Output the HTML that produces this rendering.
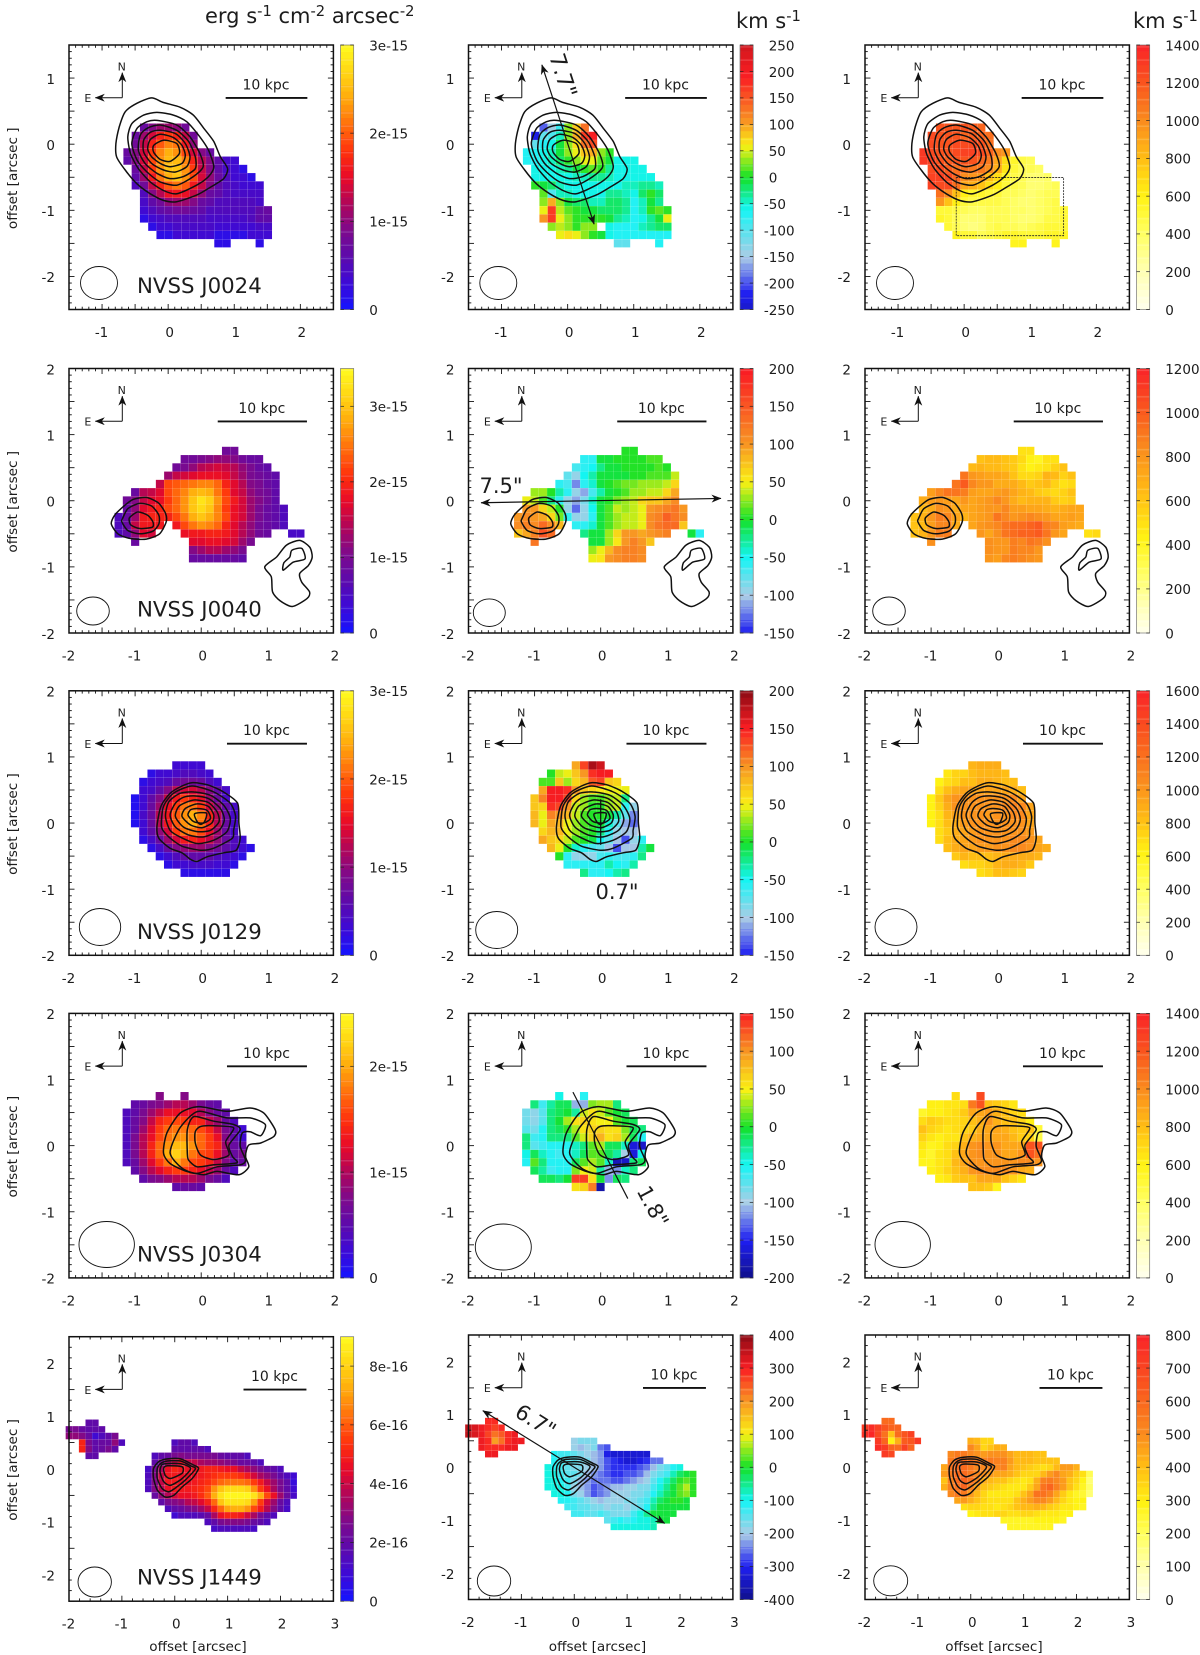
<!DOCTYPE html>
<html lang="en">
<head>
<meta charset="utf-8">
<title>Ionized gas maps of five NVSS radio galaxies</title>
<style>
html,body{margin:0;padding:0;background:#fff;}
svg{display:block;font-family:"DejaVu Sans","Liberation Sans",sans-serif;fill:#1c1c1c;}
</style>
</head>
<body>
<svg id="figure" xmlns="http://www.w3.org/2000/svg" width="1200" height="1655" viewBox="0 0 1200 1655">
<defs>
<marker id="head" viewBox="0 0 10 8" refX="9.5" refY="4" markerWidth="10" markerHeight="8" markerUnits="userSpaceOnUse" orient="auto-start-reverse"><path d="M0 0L10 4L0 8L3 4Z" fill="#111"/></marker>
</defs>
<rect width="1200" height="1655" fill="#fff"/>
<text x="205" y="23" font-size="21">erg s<tspan dy="-7" font-size="14.7">-1</tspan><tspan dy="7"> cm</tspan><tspan dy="-7" font-size="14.7">-2</tspan><tspan dy="7"> arcsec</tspan><tspan dy="-7" font-size="14.7">-2</tspan></text>
<text x="736" y="28" font-size="21">km s<tspan dy="-7" font-size="14.7">-1</tspan></text>
<text x="1133" y="28" font-size="21">km s<tspan dy="-7" font-size="14.7">-1</tspan></text>
<g id="plots"></g>
</svg>
<script>
const _ = null;

/* ---------- NVSS J0024 ---------- */
const j0024Flux = [
[_,_,7,9,11,11,10,8],
[_,7,11,14,17,18,17,13,8],
[_,8,13,17,20,22,21,16,10],
[7,9,14,18,22,24,23,19,14,9,7],
[6,9,14,19,23,25,25,22,17,12,9,6,4,3],
[_,7,13,18,23,26,26,23,18,13,9,6,4,3,2],
[_,6,11,16,21,24,26,23,19,14,10,7,5,3,3,2],
[_,5,8,13,17,20,21,20,16,13,9,6,5,4,3,3,3],
[_,_,5,9,12,15,16,15,13,10,7,6,5,4,4,4,4],
[_,_,4,6,8,10,11,11,9,7,6,5,5,5,5,5,4],
[_,_,3,5,6,7,8,8,7,6,5,5,5,5,5,5,6,7],
[_,_,2,3,4,5,5,5,5,5,4,4,4,4,4,5,6,6],
[_,_,_,2,3,3,4,4,4,4,4,3,3,3,3,3,4,4],
[_,_,_,_,2,2,3,3,3,3,3,2,2,2,2,3,3,3],
[_,_,_,_,_,_,_,_,_,_,_,2,2,_,_,_,2]
];
const j0024Velocity = [
[_,_,-200,-150,-80,30,80,130],
[_,-230,-110,-90,-40,30,90,170,190],
[_,-110,-70,-60,-10,30,70,130,150],
[-70,-70,-60,-50,-10,25,50,80,90,30,0],
[-70,-65,-60,-50,-20,10,30,60,60,20,-10,-55,-55,-55],
[_,-60,-60,-60,-50,-30,-10,10,20,0,-30,-60,-60,-55,-60],
[_,-60,-55,-60,-60,-55,-45,-40,-30,-35,-50,-60,-60,-60,-60,-55],
[_,0,-10,-20,-45,-60,-60,-60,-55,-55,-55,-60,-45,-40,-30,-30,-40],
[_,_,15,-100,-40,-50,-60,-60,-60,-60,-30,-30,-50,-55,-20,5,-25],
[_,_,35,90,25,-10,-15,-25,-50,-45,-25,-25,-35,-65,-40,-10,-30],
[_,_,60,170,45,15,0,-5,-10,-20,-15,-25,-35,-70,-50,0,15,0],
[_,_,100,170,50,30,5,0,10,0,-10,-30,-40,-70,-55,-30,-5,60],
[_,_,_,25,45,35,10,30,25,_,-55,-70,-70,-70,-50,-30,-20,-20],
[_,_,_,_,55,70,50,35,0,-5,-60,-70,-70,-70,-75,-65,-70,-75],
[_,_,_,_,_,_,_,_,_,_,_,-110,-110,_,_,_,-75]
];
const j0024Width = [
[_,_,1200,1210,1200,1200,1180,1150],
[_,1250,1200,1200,1200,1150,1180,1150,1100],
[_,1250,1200,1200,1230,1250,1250,1200,1100],
[1300,1250,1200,1200,1230,1280,1280,1230,1150,1000,950],
[1300,1280,1200,1180,1200,1200,1200,1150,1050,880,680,540,480,450],
[_,1250,1250,1180,1100,1100,1080,1050,1000,850,660,520,440,420,400],
[_,1280,1280,1230,1120,1000,950,950,800,680,540,460,420,380,370,400],
[_,1280,1230,1250,1100,900,850,800,680,620,520,460,420,380,370,390,430],
[_,_,1100,1000,800,620,540,530,520,500,450,420,400,380,390,420,440],
[_,_,950,800,620,500,460,470,480,470,430,400,380,370,400,440,470],
[_,_,520,500,470,420,400,410,440,450,430,410,390,380,400,450,480,520],
[_,_,530,490,440,380,360,380,430,430,430,410,380,380,400,460,480,500],
[_,_,_,520,420,350,330,360,420,460,450,420,390,420,460,500,500,500],
[_,_,_,_,560,520,490,450,470,510,540,540,520,500,520,540,550,550],
[_,_,_,_,_,_,_,_,_,_,_,570,570,_,_,_,570]
];
const j0024Contours = [
[[-.25,.70],[-.07,.63],[.18,.56],[.38,.44],[.54,.24],[.69,.04],[.79,-.19],[.90,-.37],[.84,-.52],[.64,-.65],[.43,-.77],[.13,-.87],[-.07,-.85],[-.27,-.75],[-.47,-.60],[-.65,-.39],[-.78,-.19],[-.79,.01],[-.74,.26],[-.65,.49],[-.47,.62]],
[[-.17,.48],[.08,.44],[.28,.34],[.48,.11],[.61,-.09],[.69,-.34],[.61,-.49],[.43,-.62],[.13,-.75],[-.07,-.70],[-.27,-.57],[-.45,-.37],[-.57,-.14],[-.61,.11],[-.55,.31],[-.37,.44]],
[[-.17,.36],[.13,.29],[.33,.11],[.48,-.14],[.53,-.34],[.38,-.49],[.13,-.62],[-.12,-.57],[-.32,-.42],[-.47,-.24],[-.55,.01],[-.47,.24],[-.32,.34]],
[[-.12,.29],[.13,.21],[.31,.04],[.41,-.19],[.41,-.37],[.23,-.49],[.03,-.52],[-.17,-.44],[-.35,-.29],[-.45,-.09],[-.42,.14],[-.30,.25]],
[[-.12,.21],[.11,.16],[.26,.01],[.33,-.19],[.28,-.34],[.11,-.42],[-.07,-.39],[-.25,-.29],[-.37,-.12],[-.37,.06],[-.27,.18]],
[[-.12,.15],[.08,.10],[.21,-.02],[.26,-.17],[.21,-.29],[.03,-.34],[-.12,-.29],[-.25,-.19],[-.31,-.07],[-.27,.07]],
[[-.07,.06],[.13,.01],[.17,-.14],[.03,-.26],[-.12,-.23],[-.22,-.12],[-.22,-.02]]
];

/* ---------- NVSS J0040 ---------- */
const j0040Flux = [
[_,_,_,_,_,_,_,_,_,_,_,_,_,9,9],
[_,_,_,_,_,_,_,_,9,9,10,11,12,12,11,9,8,8],
[_,_,_,_,_,_,_,9,10,12,14,15,16,15,14,12,10,8,7],
[_,_,_,_,_,_,13,15,16,17,18,18,18,17,15,13,10,9,8,7],
[_,_,_,_,_,15,22,23,24,25,26,26,24,20,17,14,11,10,8,7],
[_,_,8,14,15,17,22,24,26,28,29,28,25,21,17,15,12,10,9,7],
[_,9,11,15,17,18,21,24,27,30,33,31,27,22,19,16,13,11,9,7],
[_,8,12,17,19,20,22,24,27,30,32,30,26,21,18,16,13,10,8,7,6],
[6,8,13,19,20,20,20,22,25,28,30,28,26,22,18,16,13,10,8,7,6],
[6,8,15,19,19,19,_,19,22,25,27,26,24,20,17,14,12,9,8,7,6],
[6,7,12,17,16,_,_,_,18,19,19,20,20,19,17,14,12,9,8,_,_,5,5],
[_,_,8,_,_,_,_,_,_,17,17,18,18,17,16,13,10],
[_,_,_,_,_,_,_,_,_,11,13,14,14,13,12,10],
[_,_,_,_,_,_,_,_,_,8,8,8,8,8,8,7]
];
const j0040Velocity = [
[_,_,_,_,_,_,_,_,_,_,_,_,_,5,5],
[_,_,_,_,_,_,_,_,-60,-60,-5,-5,0,0,5,5,10,10],
[_,_,_,_,_,_,_,-70,-55,-50,-25,-5,-5,0,0,0,0,15,5],
[_,_,_,_,_,_,-80,-90,-50,-30,-5,-5,-5,-5,0,5,10,15,15,40],
[_,_,_,_,_,-60,-65,-120,-60,-40,-5,0,10,20,20,25,30,30,35,60],
[_,_,30,25,5,-30,-60,-90,-110,-65,-30,-5,5,15,25,30,35,35,60,90],
[_,50,35,10,-20,-60,-90,-110,-85,-45,-10,5,20,25,40,60,70,75,90,105],
[_,95,95,60,40,0,-90,-130,-90,-50,-10,15,35,30,35,50,100,105,120,125,100],
[100,110,100,90,60,20,-60,-90,-90,-60,-10,15,30,35,35,50,105,120,145,125,110],
[110,120,110,130,110,80,_,-60,-60,-40,-5,15,30,35,40,50,110,125,130,130,75],
[75,90,120,150,130,_,_,_,-20,-10,-5,30,60,95,100,90,95,110,115,_,_,-5,-55],
[_,_,125,_,_,_,_,_,_,-5,-5,30,55,100,120,100,70],
[_,_,_,_,_,_,_,_,_,30,45,80,110,115,115,105],
[_,_,_,_,_,_,_,_,_,50,55,95,110,115,115,110]
];
const j0040Width = [
[_,_,_,_,_,_,_,_,_,_,_,_,_,500,500],
[_,_,_,_,_,_,_,_,620,630,640,620,590,520,430,400,480,500],
[_,_,_,_,_,_,_,640,660,650,630,620,590,480,420,450,500,540,600],
[_,_,_,_,_,_,920,800,760,720,720,700,600,520,520,560,680,640,560,600],
[_,_,_,_,_,900,1000,850,800,780,700,700,700,640,590,600,640,560,500,530],
[_,_,760,860,920,900,870,750,720,740,750,780,720,680,640,580,540,530,540,620],
[_,700,760,800,750,720,780,720,750,780,840,800,700,650,660,680,660,580,540,580],
[_,650,700,820,800,700,720,740,760,780,800,860,760,760,720,720,700,680,700,720,720],
[620,680,800,880,840,740,680,720,760,790,900,840,800,820,860,820,780,720,740,760,720],
[600,640,760,860,860,700,_,740,800,820,840,900,940,950,960,1000,880,840,760,740,700],
[620,680,780,880,880,_,_,_,780,720,820,900,940,960,970,1000,900,780,740,_,_,480,520],
[_,_,820,_,_,_,_,_,_,820,790,800,880,860,900,880,820],
[_,_,_,_,_,_,_,_,_,810,800,800,880,860,840,800],
[_,_,_,_,_,_,_,_,_,800,760,860,880,840,820,800]
];
const j0040Contours = [
[[-1.31,-.22],[-1.18,-.09],[-1.03,.02],[-.83,.05],[-.65,-.03],[-.54,-.19],[-.53,-.32],[-.63,-.50],[-.83,-.58],[-1.08,-.57],[-1.26,-.50],[-1.36,-.35]],
[[-1.19,-.27],[-1.11,-.12],[-.93,-.04],[-.75,-.08],[-.64,-.22],[-.64,-.35],[-.73,-.46],[-.93,-.50],[-1.11,-.45],[-1.20,-.32]],
[[-1.08,-.25],[-.96,-.17],[-.81,-.22],[-.73,-.32],[-.74,-.40],[-.93,-.42],[-1.06,-.37],[-1.09,-.30]],
[[1.49,-.60],[1.64,-.70],[1.68,-.85],[1.62,-.98],[1.49,-1.10],[1.52,-1.23],[1.64,-1.38],[1.60,-1.48],[1.38,-1.60],[1.19,-1.51],[1.08,-1.38],[1.06,-1.15],[.96,-1.00],[1.14,-.85],[1.29,-.67]],
[[1.37,-.75],[1.52,-.72],[1.57,-.88],[1.39,-.93],[1.24,-1.05],[1.25,-.94],[1.34,-.85]]
];

/* ---------- NVSS J0129 ---------- */
const j0129Flux = [
[_,_,_,_,_,3,3,3,3],
[_,_,2,3,3,4,5,5,4,3],
[_,2,3,4,5,7,8,8,7,5,3],
[_,3,4,6,9,12,14,14,12,9,6,4],
[1,3,6,9,13,16,18,17,15,11,7,4],
[1,3,7,11,15,18,21,21,18,14,10,6,4],
[1,4,7,12,16,20,23,24,22,17,12,7,4],
[1,3,7,12,16,20,23,24,21,17,12,7,4],
[_,3,6,10,14,18,21,21,19,15,11,7,4],
[_,2,4,7,11,14,16,17,15,13,10,7,5,3],
[_,_,2,4,7,9,10,11,11,9,8,6,5,3,2],
[_,_,_,2,3,5,6,6,6,6,5,4,3,2],
[_,_,_,_,2,3,3,4,4,4,3,3,2],
[_,_,_,_,_,_,2,2,2,2,2,2]
];
const j0129Velocity = [
[_,_,_,_,_,90,130,190,170],
[_,_,0,40,45,70,95,140,150,150],
[_,10,10,70,25,60,85,125,130,70,60],
[_,90,150,150,140,100,70,60,55,50,45,45],
[75,110,150,150,130,60,30,10,15,30,40,-20],
[75,60,140,130,100,40,25,5,5,25,40,-60,-90],
[80,50,110,100,80,40,15,0,0,-10,-30,-80,-120],
[80,50,90,80,50,25,10,0,-10,-40,-80,-110,-130],
[_,60,85,80,50,25,10,5,-20,-60,-90,-100,-100],
[_,90,75,60,35,10,0,-10,-50,-80,-100,-140,-90,-60],
[_,_,85,50,5,-40,-60,-70,-80,-100,-140,-100,-100,-30,-5],
[_,_,_,0,-60,-90,-90,-90,-70,-60,-70,-70,-60,-20],
[_,_,_,_,-60,-60,-60,-60,-60,-35,-50,-60,-30],
[_,_,_,_,_,_,-25,-55,-60,-50,-30,-25]
];
const j0129Width = [
[_,_,_,_,_,850,880,900,880],
[_,_,650,720,750,820,850,860,850,800],
[_,620,680,750,800,820,880,880,870,830,800],
[_,700,800,900,950,950,950,950,950,920,880,820],
[600,780,950,1000,1000,1000,1000,1000,1000,1000,1050,950],
[600,750,900,1000,1000,1000,1000,1000,1000,1050,1100,1050,950],
[600,700,850,950,1000,1000,1000,980,1000,1000,1050,1050,950],
[600,680,800,900,960,1000,1000,1000,1000,1000,1000,1000,950],
[_,700,780,880,950,980,1000,1000,1000,1000,1000,1000,960],
[_,700,800,880,950,980,1000,1000,1000,1000,1050,1050,1000,920],
[_,_,820,880,950,950,960,980,1000,1000,1050,1050,1000,950,900],
[_,_,_,780,850,800,800,800,850,900,900,900,880,860],
[_,_,_,_,700,720,750,780,850,880,880,850,780],
[_,_,_,_,_,_,700,730,800,830,780,720]
];
const j0129Contours = [
[[-.14,.61],[.09,.58],[.32,.48],[.55,.30],[.57,0],[.59,-.23],[.53,-.41],[.34,-.45],[.09,-.51],[-.06,-.58],[-.16,-.55],[-.29,-.45],[-.47,-.38],[-.64,-.23],[-.67,-.06],[-.61,.25],[-.47,.45],[-.29,.56]],
[[-.14,.56],[.19,.47],[.44,.30],[.52,.10],[.49,-.11],[.47,-.23],[.19,-.38],[-.01,-.41],[-.29,-.35],[-.49,-.21],[-.60,-.06],[-.57,.25],[-.42,.45]],
[[-.11,.47],[.14,.42],[.34,.27],[.44,.07],[.39,-.13],[.19,-.26],[-.06,-.31],[-.32,-.21],[-.47,-.11],[-.54,.10],[-.49,.32],[-.32,.45]],
[[-.11,.41],[.11,.37],[.29,.22],[.35,.05],[.27,-.11],[.04,-.21],[-.19,-.18],[-.39,-.06],[-.47,.12],[-.39,.30],[-.27,.39]],
[[-.09,.35],[.11,.31],[.24,.17],[.27,.02],[.14,-.11],[-.06,-.13],[-.27,-.06],[-.39,.10],[-.34,.25],[-.21,.32]],
[[-.06,.29],[.11,.25],[.19,.12],[.16,0],[.01,-.07],[-.16,-.03],[-.29,.10],[-.24,.22]],
[[-.06,.22],[.09,.19],[.14,.07],[.04,0],[-.11,.02],[-.20,.12],[-.16,.20]],
[[-.10,.14],[.08,.15],[.05,.02],[-.01,-.02],[-.06,.02]]
];

/* ---------- NVSS J0304 ---------- */
const j0304Flux = [
[_,_,_,_,8,_,_,8],
[_,5,6,7,8,9,10,10,9,7,6,5],
[4,5,7,9,11,13,13,13,12,10,8,6,5],
[4,6,8,11,14,15,16,15,14,14,11,9,6,4],
[4,6,9,12,15,17,18,18,17,16,14,11,7,5,3],
[4,7,10,13,16,18,19,19,18,17,15,13,8,5,3],
[4,7,10,14,17,19,21,21,19,17,15,14,9,6,5],
[4,7,10,14,17,20,22,20,18,16,15,13,9,6,7],
[4,6,9,12,15,18,20,18,16,15,14,11,8,5,6],
[_,5,8,10,12,14,15,15,14,13,11,9,6,4],
[_,_,5,7,8,9,10,10,10,9,7,6,4],
[_,_,_,_,_,_,5,6,6,5]
];
const j0304Velocity = [
[_,_,_,_,-50,_,_,-55],
[_,-20,-65,-30,-15,-15,-110,-110,25,30,35,-20],
[-85,-90,-75,-25,-10,-5,-30,40,55,40,15,-5,-10],
[-85,-90,-70,-25,-5,30,55,65,60,50,45,15,-5,-15],
[-70,-80,-60,-20,-10,5,30,60,70,70,60,55,20,-15,-20],
[-20,-65,-60,-25,-25,-20,10,40,70,80,60,70,35,-15,-60],
[-25,-70,-65,-60,-60,-55,-40,-20,15,30,-15,-15,-40,-160,-170],
[-45,-10,-40,-60,-65,-60,-35,-10,15,10,-15,-30,-100,-160,-50],
[-60,10,-20,-55,-60,-60,-10,10,35,10,-40,-180,-170,-20,-15],
[_,-10,-30,-65,-60,-55,20,50,40,-30,-110,-120,-40,-20],
[_,_,-15,-10,-20,-5,135,135,60,-5,-120,-15,-20],
[_,_,_,_,_,_,55,70,110,-190]
];
const j0304Width = [
[_,_,_,_,680,_,_,1250],
[_,620,610,630,660,680,1050,1200,800,750,700,650],
[540,610,610,660,680,740,900,900,920,850,780,700,670],
[690,750,730,690,680,720,780,850,950,850,780,800,700,620],
[780,730,690,660,680,720,760,850,900,880,860,800,750,780,520],
[700,630,610,630,660,770,850,900,880,880,880,820,750,700,470],
[650,560,610,680,710,850,950,1000,950,950,880,900,880,1200,1200],
[600,540,640,680,790,900,950,1000,950,950,880,900,950,1200,1100],
[580,560,640,690,810,900,950,950,950,950,950,950,1000,1000,950],
[_,610,660,730,790,850,950,980,1000,1000,1000,950,900,850],
[_,_,610,660,760,790,800,900,900,900,800,700,660],
[_,_,_,_,_,_,780,800,750,580]
];
const j0304Contours = [
[[-.52,.19],[-.32,.49],[-.04,.59],[.39,.52],[.74,.57],[.95,.49],[1.12,.24],[1.10,.14],[.90,.04],[.72,.01],[.67,-.16],[.72,-.32],[.57,-.44],[.24,-.39],[.04,-.44],[-.22,-.39],[-.47,-.27],[-.57,-.11]],
[[-.47,-.11],[-.34,.24],[-.16,.45],[-.01,.52],[.39,.42],[.74,.42],[.97,.32],[.90,.15],[.74,.21],[.62,.19],[.59,-.01],[.67,-.22],[.59,-.29],[.24,-.32],[-.06,-.42],[-.29,-.34]],
[[-.21,-.11],[-.21,.24],[-.11,.44],[.19,.37],[.49,.32],[.59,.24],[.42,.01],[.47,-.16],[.54,-.26],[.19,-.29],[-.06,-.32],[-.19,-.22]],
[[-.09,.21],[-.01,.29],[.19,.30],[.49,.27],[.37,.06],[.42,-.14],[.19,-.21],[-.01,-.14],[-.09,.04]]
];

/* ---------- NVSS J1449 ---------- */
const j1449Flux = [
[_,_,_,20,20],
[25,25,22,20,20,18],
[30,30,28,22,10,15,20,25],
[_,_,50,25,18,22,22,30,15,_,_,_,_,_,_,_,15,18,18,15],
[_,_,50,28,20,22,25,20,_,_,_,_,_,_,_,_,18,20,20,20,18,15],
[_,_,_,20,20,_,_,_,_,_,_,_,_,15,20,22,25,28,25,25,25,25,25,22,20,18,18,15],
[_,_,_,_,_,_,_,_,_,_,_,_,_,18,25,35,40,45,40,40,35,32,32,30,28,25,22,22,20,15],
[_,_,_,_,_,_,_,_,_,_,_,_,12,25,35,45,50,48,45,45,48,50,50,48,45,45,40,35,30,25,22,20,15],
[_,_,_,_,_,_,_,_,_,_,_,_,15,28,40,48,48,45,45,46,48,50,52,54,55,54,52,48,42,35,30,25,20,15,10],
[_,_,_,_,_,_,_,_,_,_,_,_,15,28,40,48,48,46,46,48,50,52,58,62,65,65,65,62,55,48,40,32,25,18,8],
[_,_,_,_,_,_,_,_,_,_,_,_,15,28,38,45,48,48,48,50,52,58,68,78,82,82,82,80,68,55,45,35,25,18,10],
[_,_,_,_,_,_,_,_,_,_,_,_,_,22,30,38,42,45,46,48,52,60,72,85,90,90,90,88,85,72,58,45,32,22,12],
[_,_,_,_,_,_,_,_,_,_,_,_,_,_,20,25,28,30,36,40,44,50,62,78,85,85,85,82,70,55,42,32,22,14],
[_,_,_,_,_,_,_,_,_,_,_,_,_,_,_,15,20,22,25,28,32,40,50,62,70,72,72,68,58,48,36,28,20,12],
[_,_,_,_,_,_,_,_,_,_,_,_,_,_,_,_,10,14,15,15,16,22,34,45,50,50,48,42,35,25,18,14],
[_,_,_,_,_,_,_,_,_,_,_,_,_,_,_,_,_,_,_,_,_,15,20,25,28,28,28,25,22,18,15],
[_,_,_,_,_,_,_,_,_,_,_,_,_,_,_,_,_,_,_,_,_,_,12,15,15,15,15,15,12]
];
const j1449Velocity = [
[_,_,_,290,290],
[340,330,300,280,270,280],
[340,330,300,260,230,250,290,300],
[_,_,300,280,190,220,280,300,310,_,_,_,_,_,_,_,-190,-180,-180,-180],
[_,_,300,290,280,280,300,310,_,_,_,_,_,_,_,_,-190,-210,-190,-180,-260,-270],
[_,_,_,310,310,_,_,_,_,_,_,_,_,-120,-130,-140,-160,-180,-190,-210,-240,-320,-330,-340,-340,-340,-340,-330],
[_,_,_,_,_,_,_,_,_,_,_,_,_,-110,-130,-150,-160,-170,-180,-210,-240,-270,-290,-320,-330,-330,-320,-290,-260,-250],
[_,_,_,_,_,_,_,_,_,_,_,_,-90,-110,-130,-150,-170,-170,-190,-220,-240,-280,-300,-300,-290,-290,-280,-250,-210,-180,-160,-110,-100],
[_,_,_,_,_,_,_,_,_,_,_,_,-90,-100,-130,-150,-160,-180,-210,-240,-250,-280,-290,-290,-280,-280,-250,-220,-180,-150,-130,-80,-40,-10,0],
[_,_,_,_,_,_,_,_,_,_,_,_,-90,-100,-110,-130,-170,-210,-240,-260,-260,-260,-270,-270,-260,-240,-220,-200,-150,-120,-80,-30,0,20,0],
[_,_,_,_,_,_,_,_,_,_,_,_,-90,-90,-100,-130,-190,-220,-240,-270,-260,-240,-220,-210,-200,-190,-180,-170,-130,-100,-60,-20,20,60,10],
[_,_,_,_,_,_,_,_,_,_,_,_,_,-90,-100,-110,-180,-200,-240,-270,-260,-240,-200,-190,-190,-180,-170,-150,-110,-80,-40,-10,20,50,10],
[_,_,_,_,_,_,_,_,_,_,_,_,_,_,-110,-120,-130,-160,-180,-200,-210,-200,-190,-190,-180,-170,-150,-130,-70,-30,-10,0,0,-5],
[_,_,_,_,_,_,_,_,_,_,_,_,_,_,_,-130,-130,-150,-160,-170,-170,-190,-180,-170,-190,-170,-150,-110,-50,-20,-10,-5,-5,-10],
[_,_,_,_,_,_,_,_,_,_,_,_,_,_,_,_,-130,-140,-150,-150,-140,-150,-170,-170,-170,-130,-100,-60,-20,-5,-5,-10],
[_,_,_,_,_,_,_,_,_,_,_,_,_,_,_,_,_,_,_,_,_,-150,-130,-120,-130,-110,-100,-90,-70,-20,-10],
[_,_,_,_,_,_,_,_,_,_,_,_,_,_,_,_,_,_,_,_,_,_,-100,-100,-100,-90,-90,-90,-80]
];
const j1449Width = [
[_,_,_,580,580],
[730,760,700,650,600,600],
[750,780,680,560,380,580,640,700],
[_,_,720,600,280,420,620,640,720,_,_,_,_,_,_,_,420,400,340,340],
[_,_,760,720,600,580,700,600,_,_,_,_,_,_,_,_,500,450,350,380,420,430],
[_,_,_,720,680,_,_,_,_,_,_,_,_,500,540,540,500,480,470,480,480,480,440,400,400,400,380,380],
[_,_,_,_,_,_,_,_,_,_,_,_,_,540,580,580,560,540,520,540,520,520,460,400,400,400,390,380,380,380],
[_,_,_,_,_,_,_,_,_,_,_,_,440,560,580,580,540,500,500,500,510,520,440,400,380,360,350,330,350,400,470,470,420],
[_,_,_,_,_,_,_,_,_,_,_,_,460,540,580,580,540,500,480,460,450,450,420,380,340,340,340,400,470,500,450,420,370,320,200],
[_,_,_,_,_,_,_,_,_,_,_,_,380,520,580,600,560,500,420,400,380,380,340,320,310,330,430,520,550,500,460,390,340,280,160],
[_,_,_,_,_,_,_,_,_,_,_,_,420,520,570,600,530,450,380,360,340,330,310,300,310,360,440,560,600,530,460,380,330,270,180],
[_,_,_,_,_,_,_,_,_,_,_,_,_,500,540,540,470,400,340,300,300,300,300,330,380,450,560,560,520,440,360,310,270,240,170],
[_,_,_,_,_,_,_,_,_,_,_,_,_,_,440,460,420,380,340,320,320,320,330,380,430,460,500,510,470,400,340,300,290,280],
[_,_,_,_,_,_,_,_,_,_,_,_,_,_,_,330,340,350,330,320,310,320,340,380,400,400,420,400,370,340,310,300,280,260],
[_,_,_,_,_,_,_,_,_,_,_,_,_,_,_,_,290,310,330,320,340,340,320,330,350,340,320,310,300,300,290,280],
[_,_,_,_,_,_,_,_,_,_,_,_,_,_,_,_,_,_,_,_,_,260,270,260,260,270,280,290,290,280,270],
[_,_,_,_,_,_,_,_,_,_,_,_,_,_,_,_,_,_,_,_,_,_,260,260,270,270,260,260,260]
];
const j1449Contours = [
[[-.14,.19],[.11,.19],[.36,.07],[.45,.01],[.33,-.18],[.14,-.34],[-.02,-.50],[-.18,-.53],[-.33,-.40],[-.40,-.18],[-.40,.01],[-.30,.14]],
[[-.14,.15],[.11,.15],[.30,.06],[.39,0],[.20,-.21],[.04,-.34],[-.11,-.43],[-.24,-.37],[-.33,-.18],[-.33,.01],[-.27,.10]],
[[-.18,.10],[.11,.10],[.30,.01],[.14,-.18],[-.08,-.31],[-.21,-.24],[-.28,-.05],[-.25,.07]],
[[-.14,.06],[.14,.04],[.14,-.08],[-.08,-.18],[-.18,-.12],[-.21,.01]]
];

/* ---------- colour-bar ticks and labels ---------- */
const fluxTicks13 = [0,10,20,30];
const fluxLabels13 = ['0','1e-15','2e-15','3e-15'];
const fluxTicks4 = [0,10,20];
const fluxLabels4 = ['0','1e-15','2e-15'];
const fluxTicks5 = [0,20,40,60,80];
const fluxLabels5 = ['0','2e-16','4e-16','6e-16','8e-16'];
const velTicks1 = [-250,-200,-150,-100,-50,0,50,100,150,200,250];
const velTicks23 = [-150,-100,-50,0,50,100,150,200];
const velTicks4 = [-200,-150,-100,-50,0,50,100,150];
const velTicks5 = [-400,-300,-200,-100,0,100,200,300,400];
const widthTicks1 = [0,200,400,600,800,1000,1200,1400];
const widthTicks2 = [0,200,400,600,800,1000,1200];
const widthTicks3 = [0,200,400,600,800,1000,1200,1400,1600];
const widthTicks5 = [0,100,200,300,400,500,600,700,800];

/* ---------- axis tick labels ---------- */
const xLabelsRow1 = [-1,0,1,2];
const yLabelsRow1 = [-2,-1,0,1];
const xLabelsMid = [-2,-1,0,1,2];
const yLabelsMid = [-2,-1,0,1,2];
const xLabelsRow5 = [-2,-1,0,1,2,3];
const yLabelsRow5 = [-2,-1,0,1,2];

/* ---------- palettes ---------- */
const fluxStops = [[0,[20,20,255]],[.1,[60,10,215]],[.2,[92,10,172]],[.3,[125,10,140]],[.4,[175,5,90]],[.5,[232,10,40]],[.6,[255,50,12]],[.7,[255,110,12]],[.8,[255,170,12]],[.9,[255,215,20]],[1,[255,250,30]]];
const velColors = [[15,15,140],[30,30,240],[170,205,230],[20,245,245],[20,225,40],[250,240,20],[248,150,35],[250,30,35],[140,10,20]];
const widthColors = [[255,255,238],[255,255,180],[255,255,100],[255,243,20],[255,190,20],[250,140,30],[250,85,30],[250,35,40]];
const velAnchors = [
[-300,-220,-150,-60,0,60,105,190,350],
[-200,-150,-100,-50,0,50,100,195,300],
[-200,-150,-100,-50,0,50,100,150,200],
[-200,-150,-100,-50,0,50,100,150,200],
[-400,-300,-200,-100,0,100,200,300,400]
];
const widthAnchors = [
[0,200,400,600,800,1000,1200,1400],
[0,130,270,430,630,840,1020,1200],
[0,200,400,620,820,1050,1350,1600],
[0,200,400,600,800,1000,1200,1400],
[0,90,190,290,400,500,650,800]
];

/* ---------- per-object layout ---------- */
const FW = 264.4, FH = 264.5, CELL = 0.125, LEVELS = 40;
const colLeft = [69, 468.5, 865];
const rowTop = [[45,45,45],[368.5,368.5,368.5],[690.8,690.8,690.8],[1013.4,1013.4,1013.4],[1336.7,1335,1335]];
const objects = [
{name:'NVSS J0024',id:'j0024',xr:[-1.5,2.5],yr:[-2.5,1.5],gridX:-.677,gridY:.313,maps:[j0024Flux,j0024Velocity,j0024Width],contours:j0024Contours,xl:xLabelsRow1,yl:yLabelsRow1,minor:.1,scale:[.87,2.106,.70],
 cb:[[0,30,fluxTicks13,fluxLabels13],[-250,250,velTicks1,velTicks1],[0,1400,widthTicks1,widthTicks1]],
 beam:[[99,283,18.5,16.5],[498.3,283,18.5,16.5],[895,283,18.5,16.5]]},
{name:'NVSS J0040',id:'j0040',xr:[-2,2],yr:[-2,2],gridX:-1.311,gridY:.816,maps:[j0040Flux,j0040Velocity,j0040Width],contours:j0040Contours,xl:xLabelsMid,yl:yLabelsMid,minor:.1,scale:[.25,1.6,1.2],
 cb:[[0,35,fluxTicks13,fluxLabels13],[-150,200,velTicks23,velTicks23],[0,1200,widthTicks2,widthTicks2]],
 beam:[[93,611,16.3,14],[489.3,612.7,16,13.8],[889,611,16.3,14]]},
{name:'NVSS J0129',id:'j0129',xr:[-2,2],yr:[-2,2],gridX:-1.063,gridY:.934,maps:[j0129Flux,j0129Velocity,j0129Width],contours:j0129Contours,xl:xLabelsMid,yl:yLabelsMid,minor:.1,scale:[.39,1.6,1.2],
 cb:[[0,30,fluxTicks13,fluxLabels13],[-150,200,velTicks23,velTicks23],[0,1600,widthTicks3,widthTicks3]],
 beam:[[100,927,20.7,18.5],[496.7,930,21,18.5],[896,927,21,18.4]]},
{name:'NVSS J0304',id:'j0304',xr:[-2,2],yr:[-2,2],gridX:-1.189,gridY:.811,maps:[j0304Flux,j0304Velocity,j0304Width],contours:j0304Contours,xl:xLabelsMid,yl:yLabelsMid,minor:.1,scale:[.39,1.6,1.2],
 cb:[[0,25,fluxTicks4,fluxLabels4],[-200,150,velTicks4,velTicks4],[0,1400,widthTicks1,widthTicks1]],
 beam:[[106.7,1244.5,27.7,23],[503.3,1247,28,23],[902.7,1244.5,27.7,23]]},
{name:'NVSS J1449',id:'j1449',xr:[-2,3],yr:[-2.5,2.5],gridX:-2.063,gridY:.934,maps:[j1449Flux,j1449Velocity,j1449Width],contours:j1449Contours,xl:xLabelsRow5,yl:yLabelsRow5,minor:.2,scale:[1.30,2.49,1.5],
 cb:[[0,90,fluxTicks5,fluxLabels5],[-400,400,velTicks5,velTicks5],[0,800,widthTicks5,widthTicks5]],
 beam:[[94.7,1582,16.7,15],[494,1581,16.7,15],[890.7,1580.8,17,15]]}
];
const colKinds = ['flux','velocity','width'];

/* measurement lines on velocity panels (arcsec), labels in page pixels */
const slitLines = [
{row:0,from:[-.39,1.20],to:[.40,-1.21],arrows:true,label:'7.7"',lx:561.7,ly:76,rot:72,size:22},
{row:1,from:[-1.81,-.03],to:[1.82,.035],arrows:true,label:'7.5"',lx:501,ly:487,rot:0,size:21},
{row:2,from:[0,.36],to:[0,-.33],arrows:false,label:'0.7"',lx:617,ly:893,rot:0,size:21},
{row:3,from:[-.42,.81],to:[.41,-.80],arrows:false,label:'1.8"',lx:651.7,ly:1207,rot:62,size:21},
{row:4,from:[-1.73,1.07],to:[1.71,-1.06],arrows:true,label:'6.7"',lx:535,ly:1422,rot:32,size:21}
];
/* analysis box on the J0024 width map (arcsec) */
const j0024Box = [-.12,1.505,-.505,-1.384];

/* ---------- helpers ---------- */
const NS = 'http://www.w3.org/2000/svg';
function mk(tag, parent, attrs){
  const el = document.createElementNS(NS, tag);
  for (const k in attrs) el.setAttribute(k, attrs[k]);
  parent.appendChild(el);
  return el;
}
function mix(a,b,f){return [a[0]+(b[0]-a[0])*f,a[1]+(b[1]-a[1])*f,a[2]+(b[2]-a[2])*f];}
function rgb(c){return 'rgb('+Math.round(c[0])+','+Math.round(c[1])+','+Math.round(c[2])+')';}
function ramp(vals, cols, v){
  if (v<=vals[0]) return cols[0];
  for (let i=1;i<vals.length;i++){
    if (v<=vals[i]) return mix(cols[i-1],cols[i],(v-vals[i-1])/(vals[i]-vals[i-1]));
  }
  return cols[cols.length-1];
}
function colorFor(kind,row,v,lo,hi){
  if (kind==='flux'){
    const t=(v-lo)/(hi-lo);
    return ramp(fluxStops.map(s=>s[0]),fluxStops.map(s=>s[1]),t);
  }
  if (kind==='velocity') return ramp(velAnchors[row],velColors,v);
  return ramp(widthAnchors[row],widthColors,v);
}
function quant(v,lo,hi){
  const t=Math.min(.9999,Math.max(0,(v-lo)/(hi-lo)));
  return lo+(Math.floor(t*LEVELS)+.5)/LEVELS*(hi-lo);
}
/* closed smooth curve through projected contour vertices */
function smoothClosed(pts){
  const n = pts.length, k = .75/6;
  let d = 'M'+pts[0][0].toFixed(1)+' '+pts[0][1].toFixed(1);
  for (let i=0;i<n;i++){
    const p0=pts[(i-1+n)%n], p1=pts[i], p2=pts[(i+1)%n], p3=pts[(i+2)%n];
    d += 'C'+(p1[0]+(p2[0]-p0[0])*k).toFixed(1)+' '+(p1[1]+(p2[1]-p0[1])*k).toFixed(1)+' '+(p2[0]-(p3[0]-p1[0])*k).toFixed(1)+' '+(p2[1]-(p3[1]-p1[1])*k).toFixed(1)+' '+p2[0].toFixed(1)+' '+p2[1].toFixed(1);
  }
  return d+'Z';
}

/* ---------- draw ---------- */
const root = document.getElementById('plots');
objects.forEach(function(obj,row){
  colKinds.forEach(function(kind,col){
    const L = colLeft[col], T = rowTop[row][col];
    const sx = v => L+(v-obj.xr[0])/(obj.xr[1]-obj.xr[0])*FW;
    const sy = v => T+(obj.yr[1]-v)/(obj.yr[1]-obj.yr[0])*FH;
    const cb = obj.cb[col];
    const lo = cb[0], hi = cb[1];

    const g = mk('g',root,{});
    
    

    /* heatmap */
    const heat = mk('g',g,{});
    
    
    const cw = sx(CELL)-sx(0), ch = sy(0)-sy(CELL);
    obj.maps[col].forEach(function(cells,r){
      cells.forEach(function(v,c){
        if (v===null) return;
        const x0 = obj.gridX+c*CELL, y0 = obj.gridY-r*CELL;
        const rect = mk('rect',heat,{x:sx(x0).toFixed(2),y:sy(y0).toFixed(2),width:(cw-.1).toFixed(2),height:(ch-.1).toFixed(2),fill:rgb(colorFor(kind,row,quant(v,lo,hi),lo,hi))});
        
        
      });
    });

    /* dashed analysis box */
    if (row===0 && col===2){
      const box = mk('rect',g,{x:sx(j0024Box[0]),y:sy(j0024Box[2]),width:sx(j0024Box[1])-sx(j0024Box[0]),height:sy(j0024Box[3])-sy(j0024Box[2]),fill:'none',stroke:'#222','stroke-width':.8,'stroke-dasharray':'2 1'});
      
      
    }

    /* contours */
    obj.contours.forEach(function(poly){
      const line = mk('path',g,{d:smoothClosed(poly.map(p=>[sx(p[0]),sy(p[1])])),fill:'none',stroke:'#111','stroke-width':1.5,'stroke-linejoin':'round'});
      
      
    });

    /* velocity annotation */
    if (col===1){
      slitLines.filter(s=>s.row===row).forEach(function(s){
        const attrs = {x1:sx(s.from[0]),y1:sy(s.from[1]),x2:sx(s.to[0]),y2:sy(s.to[1]),stroke:'#111','stroke-width':1.2};
        if (s.arrows){attrs['marker-start']='url(#head)';attrs['marker-end']='url(#head)';}
        const ln = mk('line',g,attrs);
        
        
        const tx = mk('text',g,{x:s.lx,y:s.ly,'font-size':s.size,'text-anchor':'middle','dominant-baseline':'middle',transform:'rotate('+s.rot+' '+s.lx+' '+s.ly+')'});
        tx.textContent = s.label;
        
        
      });
    }

    /* compass */
    const cx = L+53.3, cy = T+52.7;
    const north = mk('line',g,{x1:cx,y1:cy,x2:cx,y2:cy-25,stroke:'#111','stroke-width':1,'marker-end':'url(#head)'});
    
    
    const east = mk('line',g,{x1:cx,y1:cy,x2:cx-27,y2:cy,stroke:'#111','stroke-width':1,'marker-end':'url(#head)'});
    
    
    const nt = mk('text',g,{x:cx-.5,y:cy-27,'font-size':11,'text-anchor':'middle'});
    nt.textContent = 'N';
    
    
    const et = mk('text',g,{x:cx-34.5,y:cy+4.5,'font-size':11,'text-anchor':'middle'});
    et.textContent = 'E';
    
    

    /* scale bar */
    const sb = obj.scale;
    const bar = mk('line',g,{x1:sx(sb[0]),y1:sy(sb[2]),x2:sx(sb[1]),y2:sy(sb[2]),stroke:'#111','stroke-width':1.9});
    
    
    const sbt = mk('text',g,{x:(sx(sb[0])+sx(sb[1]))/2-.5,y:sy(sb[2])-8.5,'font-size':14,'text-anchor':'middle'});
    sbt.textContent = '10 kpc';
    
    

    /* beam */
    const bm = obj.beam[col];
    const beam = mk('ellipse',g,{cx:bm[0],cy:bm[1],rx:bm[2],ry:bm[3],fill:'none',stroke:'#111','stroke-width':.9});
    
    

    /* object name */
    if (col===0){
      const nm = mk('text',g,{x:137,y:T+FH-16.5,'font-size':21.3});
      nm.textContent = obj.name;
      
      
    }

    /* ticks */
    const ticks = mk('g',g,{stroke:'#111','stroke-width':.9});
    
    
    const nx = Math.round((obj.xr[1]-obj.xr[0])/obj.minor), ny = Math.round((obj.yr[1]-obj.yr[0])/obj.minor);
    const isMajor = v => Math.abs(v*2-Math.round(v*2))<1e-6;
    for (let i=0;i<=nx;i++){
      const v = obj.xr[0]+i*obj.minor, len = isMajor(v)?5.5:2.8, x = sx(v);
      const a = mk('line',ticks,{x1:x,y1:T,x2:x,y2:T+len});
      
      
      const b = mk('line',ticks,{x1:x,y1:T+FH,x2:x,y2:T+FH-len});
      
      
    }
    for (let i=0;i<=ny;i++){
      const v = obj.yr[0]+i*obj.minor, len = isMajor(v)?5.5:2.8, y = sy(v);
      const a = mk('line',ticks,{x1:L,y1:y,x2:L+len,y2:y});
      
      
      const b = mk('line',ticks,{x1:L+FW,y1:y,x2:L+FW-len,y2:y});
      
      
    }

    /* frame */
    const frame = mk('rect',g,{x:L,y:T,width:FW,height:FH,fill:'none',stroke:'#111','stroke-width':1.5});
    
    

    /* tick labels */
    obj.xl.forEach(function(v){
      const t = mk('text',g,{x:sx(v)+(v<0?-.5:1.5),y:T+FH+27.5,'font-size':13.5,'text-anchor':'middle'});
      t.textContent = String(v);
      
      
    });
    obj.yl.forEach(function(v){
      const t = mk('text',g,{x:L-14,y:sy(v)+5.8,'font-size':13.5,'text-anchor':'end'});
      t.textContent = String(v);
      
      
    });

    /* y and x axis titles */
    if (col===0){
      const ytx = 17, yty = T+FH/2+1;
      const yt = mk('text',g,{x:ytx,y:yty,'font-size':13.6,'text-anchor':'middle',transform:'rotate(-90 '+ytx+' '+yty+')'});
      yt.textContent = 'offset [arcsec ]';
      
      
    }
    if (row===4){
      const xt = mk('text',g,{x:L+129,y:1651,'font-size':13.6,'text-anchor':'middle'});
      xt.textContent = 'offset [arcsec]';
      
      
    }

    /* colour bar */
    const barX = L+271.5, barW = 13.2;
    const sc = v => T+FH-(v-lo)/(hi-lo)*FH;
    const cbg = mk('g',g,{});
    
    
    for (let i=0;i<LEVELS;i++){
      const v0 = lo+i/LEVELS*(hi-lo), v1 = lo+(i+1)/LEVELS*(hi-lo);
      const band = mk('rect',cbg,{x:barX,y:sc(v1),width:barW,height:sc(v0)-sc(v1)+.3,fill:rgb(colorFor(kind,row,(v0+v1)/2,lo,hi))});
      
      
      if (i%2===1){
        const gl = mk('rect',cbg,{x:barX,y:sc(v1)+1.2,width:barW,height:1.4,fill:'#fff','fill-opacity':.16});
        
        
      }
    }
    const cbf = mk('rect',cbg,{x:barX,y:T,width:barW,height:FH,fill:'none',stroke:'#777','stroke-width':.7});
    
    
    cb[2].forEach(function(v,i){
      const y = sc(v);
      const t1 = mk('line',cbg,{x1:barX,y1:y,x2:barX+3.5,y2:y,stroke:'#222','stroke-width':.7});
      
      
      const t2 = mk('line',cbg,{x1:barX+barW,y1:y,x2:barX+barW-3.5,y2:y,stroke:'#222','stroke-width':.7});
      
      
      const lab = String(cb[3][i]);
      const tl = mk('text',cbg,{x:barX+barW+15.5-(lab[0]==='-'?4.8:0),y:y+5.3,'font-size':13.5});
      tl.textContent = lab;
      
      
    });
  });
});
</script>
</body>
</html>
